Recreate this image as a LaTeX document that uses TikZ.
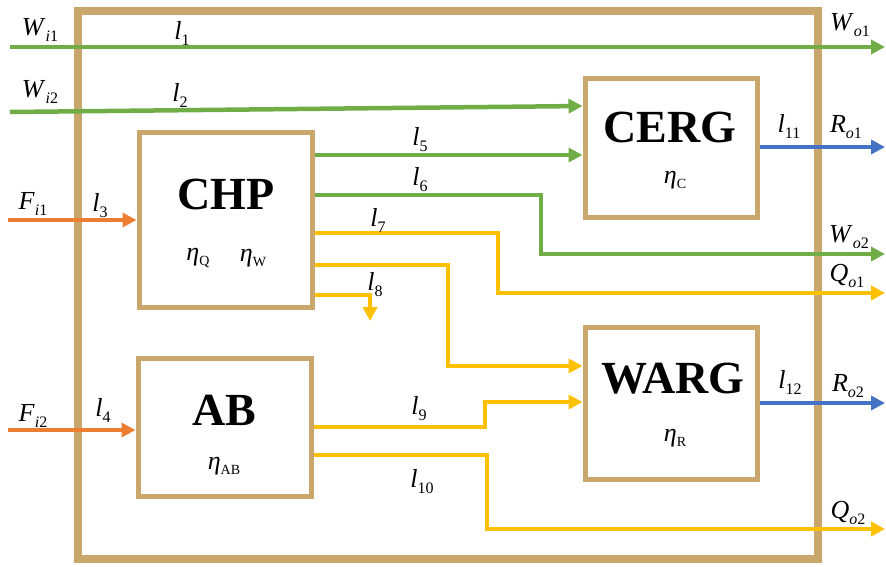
\documentclass[tikz,border=0pt]{standalone}
\usepackage{fontspec}
\setmainfont{Liberation Serif}
\usetikzlibrary{arrows.meta}
\definecolor{framec}{HTML}{C8A66C}
\definecolor{grn}{HTML}{70AD47}
\definecolor{org}{HTML}{ED7D31}
\definecolor{ylw}{HTML}{FFC000}
\definecolor{blu}{HTML}{4472C4}
\newcommand\sbs[1]{\raisebox{-6pt}{\fontsize{16}{16}\selectfont #1}}
\newcommand\esb[1]{\raisebox{-5pt}{\fontsize{14}{14}\selectfont #1}}
\begin{document}
\begin{tikzpicture}[x=1pt,y=-1pt,
  box/.style={draw=framec, line width=5pt, fill=white, inner sep=0pt},
  title/.style={font=\fontsize{46}{46}\selectfont\bfseries, inner sep=0pt},
  lab/.style={font=\fontsize{26}{26}\selectfont, inner sep=0pt},
  flow/.style={line width=4.5pt, line join=miter, -{Triangle[length=14pt,width=14pt]}},
  plain/.style={line width=4.5pt, line join=miter}]
\useasboundingbox (0,0) rectangle (886,566);
\node[draw=framec, line width=8pt, minimum width=740pt, minimum height=548pt, inner sep=0pt] (sys) at (448,285) {};
% boxes
\node[box, minimum width=173pt, minimum height=175pt] (chp) at (225.5,219.5) {};
\node[box, minimum width=173pt, minimum height=138pt] (ab) at (224.5,427) {};
\node[box, minimum width=172pt, minimum height=139pt] (cerg) at (671,147.5) {};
\node[box, minimum width=172pt, minimum height=152pt] (warg) at (671,403) {};
% titles
\node[title] (tchp) at (226,194) {CHP};
\node[title] (tab) at (224,410) {AB};
\node[title] (tcerg) at (670,127) {CERG};
\node[title] (twarg) at (673,379) {WARG};
\node[lab] (etaq) at (198,258) {\textit{η}\esb{Q}};
\node[lab] (etaw) at (253,258) {\textit{η}\esb{W}};
\node[lab] (etaab) at (224,466) {\textit{η}\esb{AB}};
\node[lab] (etac) at (675,180) {\textit{η}\esb{C}};
\node[lab] (etar) at (675,438) {\textit{η}\esb{R}};
% free ends
\coordinate (wi1) at (10,47);
\coordinate (wo1) at (885,47);
\coordinate (wi2) at (10,112);
\coordinate (fi1) at (8,220);
\coordinate (fi2) at (8,430);
\coordinate (ro1) at (885,147);
\coordinate (wo2) at (885,254);
\coordinate (qo1) at (885,293);
\coordinate (ro2) at (885,403);
\coordinate (qo2) at (885,529);
\coordinate (l8end) at (370,321);
% connectors
\draw[flow, grn] (wi1) -- (wo1);
\draw[flow, grn] (wi2) -- (cerg.west |- 0,106);
\draw[flow, grn] (chp.east |- 0,155) -- (cerg.west |- 0,155);
\draw[flow, grn] (chp.east |- 0,195) -- (541,195) -- (541,254) -- (wo2);
\draw[flow, ylw] (chp.east |- 0,233) -- (498,233) -- (498,293) -- (qo1);
\draw[flow, ylw] (chp.east |- 0,265) -- (448,265) -- (448,366) -- (warg.west |- 0,366);
\draw[flow, ylw] (chp.east |- 0,295) -- (370,295) -- (l8end);
\draw[flow, ylw] (ab.east |- 0,427) -- (485,427) -- (485,402) -- (warg.west |- 0,402);
\draw[flow, ylw] (ab.east |- 0,455) -- (487,455) -- (487,529) -- (qo2);
\draw[flow, org] (fi1) -- (chp.west |- 0,220);
\draw[flow, org] (fi2) -- (ab.west |- 0,430);
\draw[flow, blu] (cerg.east |- 0,147) -- (ro1);
\draw[flow, blu] (warg.east |- 0,403) -- (ro2);
% labels
\node[lab] (lwi1) at (40,30) {\textit{W}\sbs{\textit{i}1}};
\node[lab] (lwi2) at (40,92) {\textit{W}\sbs{\textit{i}2}};
\node[lab] (lfi1) at (33,204) {\textit{F}\sbs{\textit{i}1}};
\node[lab] (lfi2) at (33,416) {\textit{F}\sbs{\textit{i}2}};
\node[lab] (l1) at (182,33) {\textit{l}\sbs{1}};
\node[lab] (l2) at (180,95) {\textit{l}\sbs{2}};
\node[lab] (l3) at (100,206) {\textit{l}\sbs{3}};
\node[lab] (l4) at (103,410) {\textit{l}\sbs{4}};
\node[lab] (l5) at (420,140) {\textit{l}\sbs{5}};
\node[lab] (l6) at (420,180) {\textit{l}\sbs{6}};
\node[lab] (l7) at (378,220) {\textit{l}\sbs{7}};
\node[lab] (l8) at (375,285) {\textit{l}\sbs{8}};
\node[lab] (l9) at (419,409) {\textit{l}\sbs{9}};
\node[lab] (l10) at (422,482) {\textit{l}\sbs{10}};
\node[lab] (l11) at (789,126) {\textit{l}\sbs{11}};
\node[lab] (l12) at (790,382) {\textit{l}\sbs{12}};
\node[lab] (lwo1) at (850,25) {\textit{W}\sbs{\textit{o}1}};
\node[lab] (lro1) at (846,127) {\textit{R}\sbs{\textit{o}1}};
\node[lab] (lwo2) at (849,237) {\textit{W}\sbs{\textit{o}2}};
\node[lab] (lqo1) at (847,276) {\textit{Q}\sbs{\textit{o}1}};
\node[lab] (lro2) at (848,386) {\textit{R}\sbs{\textit{o}2}};
\node[lab] (lqo2) at (848,513) {\textit{Q}\sbs{\textit{o}2}};
\end{tikzpicture}
\end{document}
